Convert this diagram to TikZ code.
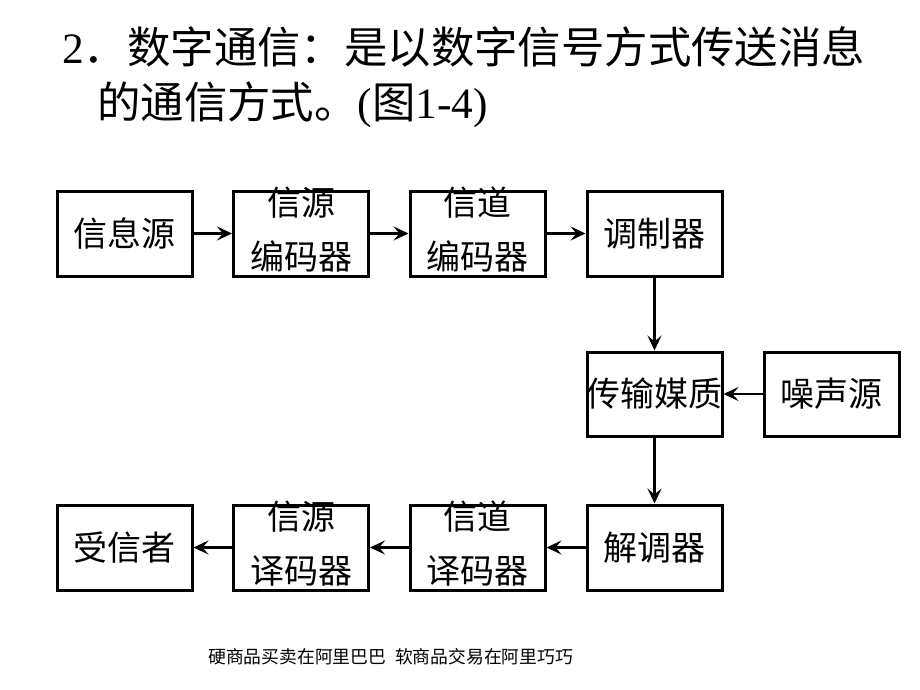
\documentclass[tikz,border=0pt]{standalone}
\usepackage{fontspec}
\setmainfont{Liberation Serif}
\newfontfamily\cjk{Noto Sans CJK SC}
\usetikzlibrary{arrows.meta}
\begin{document}
\begin{tikzpicture}[x=1pt,y=-1pt,
  blk/.style={draw, line width=3pt, minimum width=135pt, minimum height=85pt, inner sep=0pt},
  lbl/.style={font=\cjk\fontsize{34}{54}\selectfont, align=center, inner sep=0pt},
  arr/.style={line width=2.7pt, -{Stealth[length=15pt,width=14pt,inset=6pt]}},
  ttl/.style={anchor=base west, inner sep=0pt, font=\fontsize{43.4}{43.4}\selectfont}]
\useasboundingbox (0,0) rectangle (920,690);
\fill[white] (0,0) rectangle (920,690);

% title
\node[ttl] (t1) at (62,64) {2{\cjk ．数字通信：是以数字信号方式传送消息}};
\node[ttl] (t2) at (97,119) {{\cjk 的通信方式。}({\cjk 图}1-4)};

% row 1
\node[blk] (src) at (124.5,233.5) {};
\node[blk] (senc) at (301,233.5) {};
\node[blk] (cenc) at (477.5,233.5) {};
\node[blk] (mod) at (654.5,233.5) {};
% row 2
\node[blk, minimum height=84pt] (med) at (654.5,394) {};
\node[blk, minimum height=84pt] (noi) at (831.5,394) {};
% row 3
\node[blk] (dst) at (124.5,547.5) {};
\node[blk] (sdec) at (301,547.5) {};
\node[blk] (cdec) at (477.5,547.5) {};
\node[blk] (dem) at (654.5,547.5) {};

% labels
\node[lbl] (lsrc) at (src) {信息源};
\node[lbl] (lsenc) at ([yshift=4pt]senc.center) {信源\\编码器};
\node[lbl] (lcenc) at ([yshift=4pt]cenc.center) {信道\\编码器};
\node[lbl] (lmod) at (mod) {调制器};
\node[lbl] (lmed) at (med) {传输媒质};
\node[lbl] (lnoi) at (noi) {噪声源};
\node[lbl] (ldst) at (dst) {受信者};
\node[lbl] (lsdec) at ([yshift=4pt]sdec.center) {信源\\译码器};
\node[lbl] (lcdec) at ([yshift=4pt]cdec.center) {信道\\译码器};
\node[lbl] (ldem) at (dem) {解调器};

% connectors
\draw[arr] (src.east) -- (senc.west);
\draw[arr] (senc.east) -- (cenc.west);
\draw[arr] (cenc.east) -- (mod.west);
\draw[arr] (mod.south) -- (med.north);
\draw[arr] (noi.west) -- (med.east);
\draw[arr] (med.south) -- (dem.north);
\draw[arr] (dem.west) -- (cdec.east);
\draw[arr] (cdec.west) -- (sdec.east);
\draw[arr] (sdec.west) -- (dst.east);

% footer
\node[anchor=base west, inner sep=0pt, font=\cjk\fontsize{17.8}{17.8}\selectfont] (ft) at (208,663.5) {硬商品买卖在阿里巴巴\hspace{0.5em}软商品交易在阿里巧巧};
\end{tikzpicture}
\end{document}
